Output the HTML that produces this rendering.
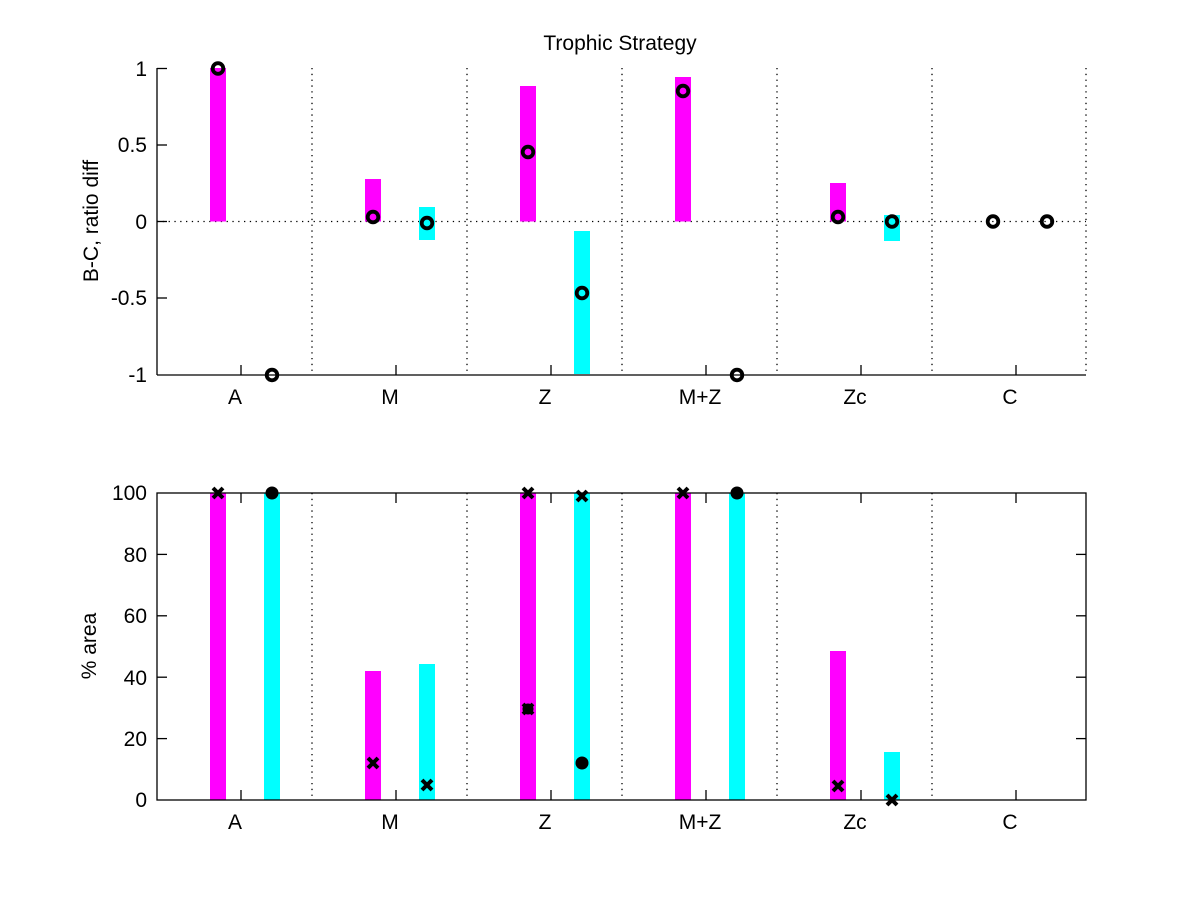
<!DOCTYPE html>
<html><head><meta charset="utf-8"><style>body{margin:0;background:#fff}svg{display:block}text{font-family:"Liberation Sans",sans-serif;fill:#000}</style></head><body>
<svg width="1200" height="900" viewBox="0 0 1200 900" xmlns="http://www.w3.org/2000/svg">
<text x="620" y="50" font-size="21" text-anchor="middle">Trophic Strategy</text>
<g stroke="#000" stroke-width="1.3" stroke-dasharray="1.3,4.5">
<line x1="312" y1="68" x2="312" y2="375"/><line x1="467" y1="68" x2="467" y2="375"/><line x1="622" y1="68" x2="622" y2="375"/><line x1="777" y1="68" x2="777" y2="375"/><line x1="932" y1="68" x2="932" y2="375"/><line x1="1086" y1="68" x2="1086" y2="375"/>
<line x1="157" y1="221.5" x2="1086" y2="221.5"/>
</g>
<g>
<rect x="210" y="68" width="16" height="153.5" fill="#f0f"/>
<rect x="365" y="179" width="16" height="42.5" fill="#f0f"/>
<rect x="419" y="207" width="16" height="33" fill="#0ff"/>
<rect x="520" y="86" width="16" height="135.5" fill="#f0f"/>
<rect x="574" y="231" width="16" height="143" fill="#0ff"/>
<rect x="675" y="77" width="16" height="144.5" fill="#f0f"/>
<rect x="830" y="183" width="16" height="38.5" fill="#f0f"/>
<rect x="884" y="215" width="16" height="26" fill="#0ff"/>
</g>
<g stroke="#000" stroke-width="1.3" fill="none">
<line x1="157" y1="68" x2="157" y2="375"/><line x1="157" y1="375" x2="1086" y2="375"/>
<line x1="157" y1="68.5" x2="167" y2="68.5"/><line x1="157" y1="145" x2="167" y2="145"/><line x1="157" y1="221.5" x2="167" y2="221.5"/><line x1="157" y1="298" x2="167" y2="298"/>
<line x1="241" y1="375" x2="241" y2="365"/><line x1="396" y1="375" x2="396" y2="365"/><line x1="551" y1="375" x2="551" y2="365"/><line x1="706" y1="375" x2="706" y2="365"/><line x1="861" y1="375" x2="861" y2="365"/><line x1="1016" y1="375" x2="1016" y2="365"/>
</g>
<g stroke="#000" stroke-width="3.8" fill="none">
<circle cx="218" cy="68.5" r="5.3"/><circle cx="272" cy="375" r="5.3"/>
<circle cx="373" cy="217" r="5.3"/><circle cx="427" cy="223" r="5.3"/>
<circle cx="528" cy="152" r="5.3"/><circle cx="582" cy="293" r="5.3"/>
<circle cx="683" cy="91" r="5.3"/><circle cx="737" cy="375" r="5.3"/>
<circle cx="838" cy="217" r="5.3"/><circle cx="892" cy="221.5" r="5.3"/>
<circle cx="993" cy="221.5" r="5.3"/><circle cx="1047" cy="221.5" r="5.3"/>
</g>
<g font-size="21" text-anchor="end">
<text x="147" y="76">1</text><text x="147" y="152">0.5</text><text x="147" y="229">0</text><text x="147" y="305">-0.5</text><text x="147" y="382">-1</text>
</g>
<g font-size="21" text-anchor="middle">
<text x="235" y="404">A</text><text x="390" y="404">M</text><text x="545" y="404">Z</text><text x="700" y="404">M+Z</text><text x="855" y="404">Zc</text><text x="1010" y="404">C</text>
</g>
<text transform="translate(98,221) rotate(-90)" font-size="21" text-anchor="middle">B-C, ratio diff</text>
<g stroke="#000" stroke-width="1.3" stroke-dasharray="1.3,4.5">
<line x1="312" y1="493" x2="312" y2="800"/><line x1="467" y1="493" x2="467" y2="800"/><line x1="622" y1="493" x2="622" y2="800"/><line x1="777" y1="493" x2="777" y2="800"/><line x1="932" y1="493" x2="932" y2="800"/>
</g>
<g>
<rect x="210" y="493" width="16" height="307" fill="#f0f"/>
<rect x="264" y="493" width="16" height="307" fill="#0ff"/>
<rect x="365" y="671" width="16" height="129" fill="#f0f"/>
<rect x="419" y="664" width="16" height="136" fill="#0ff"/>
<rect x="520" y="493" width="16" height="307" fill="#f0f"/>
<rect x="574" y="493" width="16" height="307" fill="#0ff"/>
<rect x="675" y="493" width="16" height="307" fill="#f0f"/>
<rect x="729" y="493" width="16" height="307" fill="#0ff"/>
<rect x="830" y="651" width="16" height="149" fill="#f0f"/>
<rect x="884" y="752" width="16" height="48" fill="#0ff"/>
</g>
<g stroke="#000" stroke-width="1.3" fill="none">
<rect x="157" y="493" width="929" height="307"/>
<line x1="157" y1="554.4" x2="167" y2="554.4"/><line x1="157" y1="615.8" x2="167" y2="615.8"/><line x1="157" y1="677.2" x2="167" y2="677.2"/><line x1="157" y1="738.6" x2="167" y2="738.6"/>
<line x1="1086" y1="554.4" x2="1076" y2="554.4"/><line x1="1086" y1="615.8" x2="1076" y2="615.8"/><line x1="1086" y1="677.2" x2="1076" y2="677.2"/><line x1="1086" y1="738.6" x2="1076" y2="738.6"/>
<line x1="241" y1="800" x2="241" y2="790"/><line x1="396" y1="800" x2="396" y2="790"/><line x1="551" y1="800" x2="551" y2="790"/><line x1="706" y1="800" x2="706" y2="790"/><line x1="861" y1="800" x2="861" y2="790"/><line x1="1016" y1="800" x2="1016" y2="790"/>
<line x1="241" y1="493" x2="241" y2="503"/><line x1="396" y1="493" x2="396" y2="503"/><line x1="551" y1="493" x2="551" y2="503"/><line x1="706" y1="493" x2="706" y2="503"/><line x1="861" y1="493" x2="861" y2="503"/><line x1="1016" y1="493" x2="1016" y2="503"/>
</g>
<g fill="#000">
<circle cx="272" cy="493" r="6.5"/><circle cx="582" cy="763" r="6.5"/><circle cx="737" cy="493" r="6.5"/><circle cx="528" cy="709" r="5.5"/>
</g>
<g stroke="#000" stroke-width="4" fill="none">
<path d="M213,488l10,10M223,488l-10,10"/>
<path d="M368,758l10,10M378,758l-10,10"/>
<path d="M422,780l10,10M432,780l-10,10"/>
<path d="M523,488l10,10M533,488l-10,10"/>
<path d="M523,704l10,10M533,704l-10,10"/>
<path d="M577,491l10,10M587,491l-10,10"/>
<path d="M678,488l10,10M688,488l-10,10"/>
<path d="M833,781l10,10M843,781l-10,10"/>
<path d="M887,795l10,10M897,795l-10,10"/>
</g>
<g font-size="21" text-anchor="end">
<text x="147" y="500">100</text><text x="147" y="562">80</text><text x="147" y="623">60</text><text x="147" y="685">40</text><text x="147" y="746">20</text><text x="147" y="807">0</text>
</g>
<g font-size="21" text-anchor="middle">
<text x="235" y="829">A</text><text x="390" y="829">M</text><text x="545" y="829">Z</text><text x="700" y="829">M+Z</text><text x="855" y="829">Zc</text><text x="1010" y="829">C</text>
</g>
<text transform="translate(96,646) rotate(-90)" font-size="21" text-anchor="middle">% area</text>
</svg>
</body></html>
